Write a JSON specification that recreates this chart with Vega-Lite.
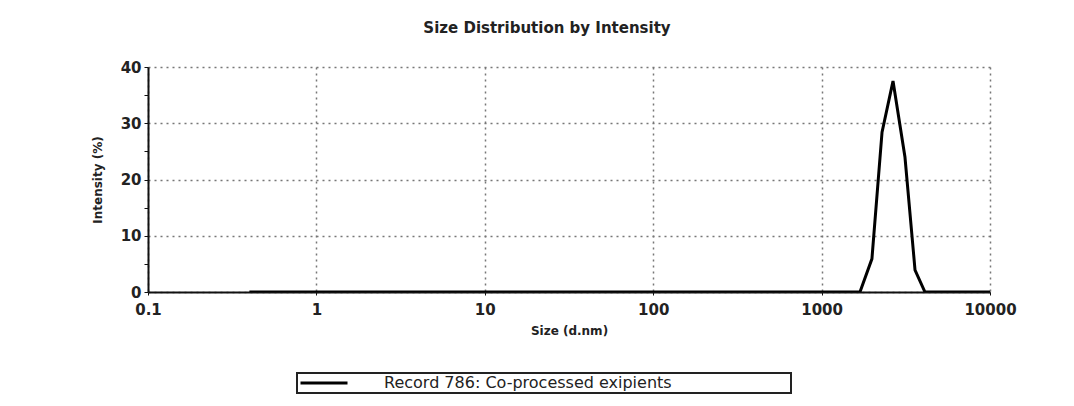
{
  "$schema": "https://vega.github.io/schema/vega-lite/v6.json",
  "width": 842,
  "height": 225,
  "autosize": {"type": "none"},
  "padding": {"left": 148, "top": 67, "right": 84, "bottom": 114},
  "background": "white",
  "config": {
    "view": {"stroke": null},
    "font": "DejaVu Sans"
  },
  "title": {
    "text": "Size Distribution by Intensity",
    "font": "DejaVu Sans",
    "fontSize": 15,
    "fontWeight": "bold",
    "color": "#222",
    "anchor": "middle",
    "offset": 24,
    "dx": -22
  },
  "data": {
    "values": [
      {"size": 0.4, "intensity": 0, "series": "Record 786: Co-processed exipients"},
      {"size": 1, "intensity": 0, "series": "Record 786: Co-processed exipients"},
      {"size": 10, "intensity": 0, "series": "Record 786: Co-processed exipients"},
      {"size": 100, "intensity": 0, "series": "Record 786: Co-processed exipients"},
      {"size": 1000, "intensity": 0, "series": "Record 786: Co-processed exipients"},
      {"size": 1690, "intensity": 0, "series": "Record 786: Co-processed exipients"},
      {"size": 1990, "intensity": 5.9, "series": "Record 786: Co-processed exipients"},
      {"size": 2285, "intensity": 28.4, "series": "Record 786: Co-processed exipients"},
      {"size": 2655, "intensity": 37.5, "series": "Record 786: Co-processed exipients"},
      {"size": 3126, "intensity": 24, "series": "Record 786: Co-processed exipients"},
      {"size": 3588, "intensity": 3.9, "series": "Record 786: Co-processed exipients"},
      {"size": 4110, "intensity": 0, "series": "Record 786: Co-processed exipients"},
      {"size": 10000, "intensity": 0, "series": "Record 786: Co-processed exipients"}
    ]
  },
  "mark": {"type": "line", "strokeWidth": 3, "strokeJoin": "miter", "clip": true},
  "encoding": {
    "x": {
      "field": "size",
      "type": "quantitative",
      "scale": {"type": "log", "domain": [0.1, 10000], "nice": false},
      "axis": {
        "title": "Size (d.nm)",
        "titleFont": "DejaVu Sans",
        "titleFontSize": 12,
        "titleFontWeight": "bold",
        "titleColor": "#222",
        "titlePadding": 8,
        "values": [0.1, 1, 10, 100, 1000, 10000],
        "labelExpr": "datum.value < 1 ? '0.1' : format(datum.value, 'd')",
        "labelFont": "DejaVu Sans",
        "labelFontSize": 15,
        "labelFontWeight": "bold",
        "labelColor": "#222",
        "labelPadding": 7,
        "labelFlush": false,
        "labelOverlap": false,
        "domainColor": "#111",
        "domainWidth": 2,
        "tickColor": "#111",
        "tickSize": 3,
        "grid": true,
        "gridColor": "#777",
        "gridDash": [2, 4],
        "gridWidth": 1.5
      }
    },
    "y": {
      "field": "intensity",
      "type": "quantitative",
      "scale": {"domain": [0, 40], "nice": false},
      "axis": {
        "title": "Intensity (%)",
        "titleFont": "DejaVu Sans",
        "titleFontSize": 12,
        "titleFontWeight": "bold",
        "titleColor": "#222",
        "titlePadding": 16,
        "values": [0, 5, 10, 15, 20, 25, 30, 35, 40],
        "labelExpr": "datum.value % 10 === 0 ? datum.label : ''",
        "labelFont": "DejaVu Sans",
        "labelFontSize": 15,
        "labelFontWeight": "bold",
        "labelColor": "#222",
        "labelPadding": 3,
        "domainColor": "#111",
        "domainWidth": 2,
        "tickColor": "#111",
        "tickSize": 4,
        "grid": true,
        "gridColor": "#777",
        "gridDash": [2, 4],
        "gridWidth": 1.5,
        "gridOpacity": {"condition": {"test": "datum.value % 10 === 0", "value": 1}, "value": 0}
      }
    },
    "color": {
      "field": "series",
      "type": "nominal",
      "scale": {"range": ["black"]},
      "legend": {
        "title": null,
        "orient": "none",
        "legendX": 149,
        "legendY": 306,
        "padding": 2,
        "strokeColor": "#222",
        "symbolType": "stroke",
        "symbolSize": 2209,
        "symbolStrokeWidth": 3,
        "clipHeight": 16,
        "labelOffset": 35,
        "labelFont": "DejaVu Sans",
        "labelFontSize": 16,
        "labelColor": "#222",
        "labelLimit": 800,
        "labelExpr": "datum.label + '\u00a0\u00a0\u00a0\u00a0\u00a0\u00a0\u00a0\u00a0\u00a0\u00a0\u00a0\u00a0\u00a0\u00a0\u00a0\u00a0\u00a0\u00a0\u00a0\u00a0\u00a0\u00a0\u00a0\u200b'",
        "encode": {"legend": {"update": {"strokeWidth": {"value": 2}}}}
      }
    }
  }
}
